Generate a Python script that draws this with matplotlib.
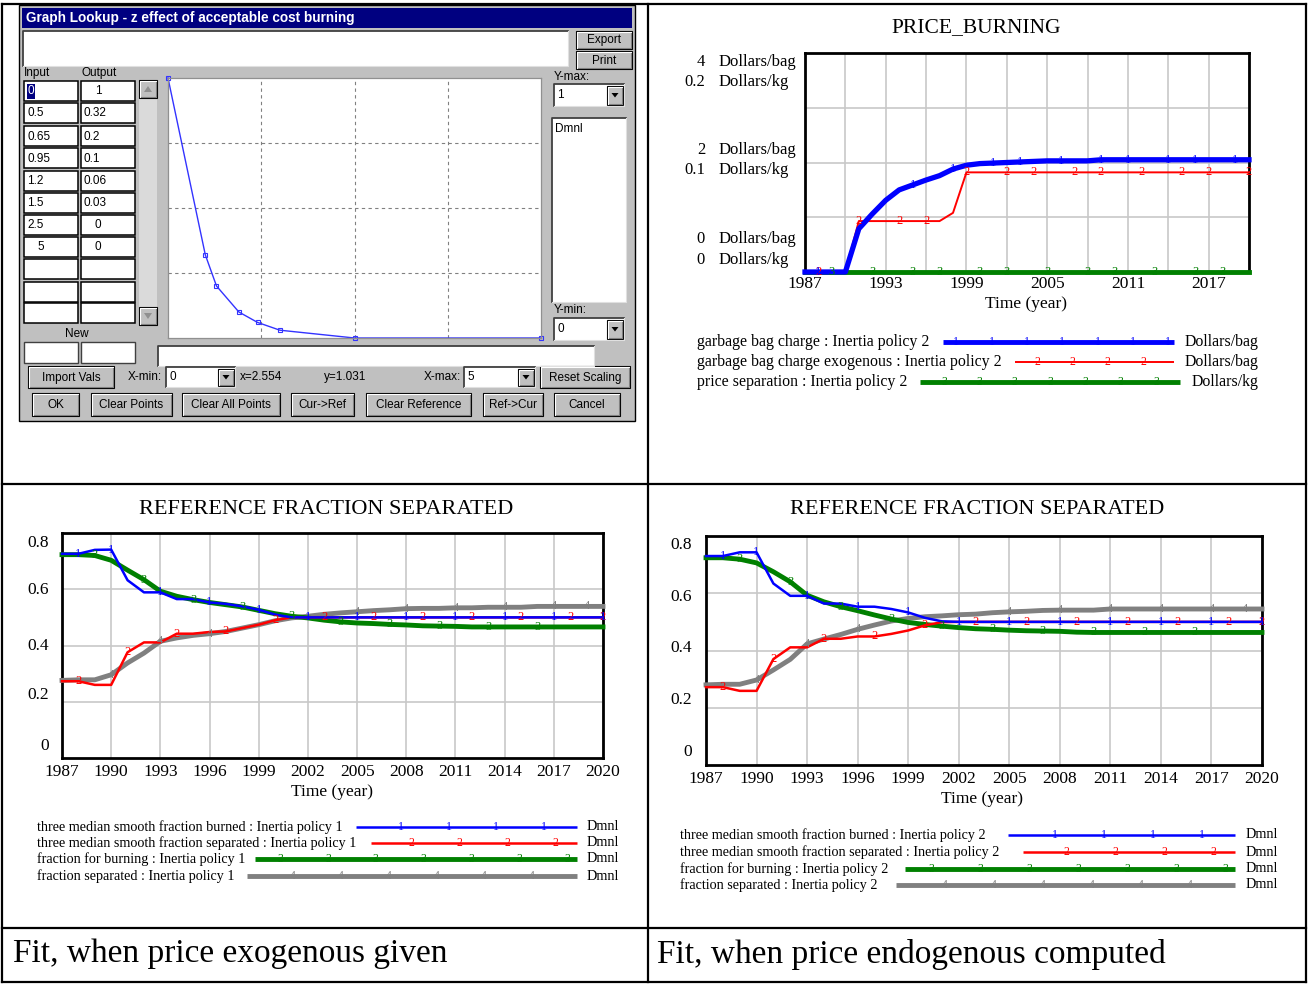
import matplotlib
matplotlib.use("Agg")
import matplotlib.pyplot as plt
from matplotlib.patches import Rectangle, Polygon

W, H = 1313, 984
SERIF = ["Liberation Serif", "DejaVu Serif"]
SANS = ["Liberation Sans", "DejaVu Sans"]
plt.rcParams["font.family"] = SERIF

# ---- lookup table shown in the dialog ----
lookup_input = [0, 0.5, 0.65, 0.95, 1.2, 1.5, 2.5, 5]
lookup_output = [1, 0.32, 0.2, 0.1, 0.06, 0.03, 0, 0]

years = list(range(1987, 2021))

# ---- PRICE_BURNING (Inertia policy 2) ----
bag_charge = [0, 0, 0, 0, 0.79, 1.06, 1.31, 1.50, 1.59, 1.68, 1.76, 1.88,
              1.95, 1.98, 1.99, 2.00, 2.01, 2.02, 2.03, 2.03, 2.03, 2.03,
              2.05, 2.05, 2.05, 2.05, 2.05, 2.05, 2.05, 2.05, 2.05, 2.05,
              2.05, 2.05]
bag_charge_exo = [0, 0, 0, 0, 0.93, 0.93, 0.93, 0.93, 0.93, 0.93, 0.93, 1.08,
                  1.82, 1.82, 1.82, 1.82, 1.82, 1.82, 1.82, 1.82, 1.82, 1.82,
                  1.82, 1.82, 1.82, 1.82, 1.82, 1.82, 1.82, 1.82, 1.82, 1.82,
                  1.82, 1.82]
price_separation = [0, 0, 0, 0, 0, 0, 0, 0, 0, 0, 0, 0, 0, 0, 0, 0, 0,
                    0, 0, 0, 0, 0, 0, 0, 0, 0, 0, 0, 0, 0, 0, 0, 0, 0]
bag_ticks = ["4", "2", "0"]
kg_ticks = ["0.2", "0.1", "0"]

# ---- REFERENCE FRACTION SEPARATED, Inertia policy 1 ----
p1_burned = [0.726, 0.726, 0.740, 0.741, 0.632, 0.589, 0.589, 0.565, 0.565,
             0.553, 0.548, 0.539, 0.527, 0.510, 0.500, 0.500, 0.500, 0.500,
             0.500, 0.500, 0.500, 0.500, 0.500, 0.500, 0.500, 0.500, 0.500,
             0.500, 0.500, 0.500, 0.500, 0.500, 0.500, 0.500]
p1_sep_smooth = [0.273, 0.273, 0.260, 0.260, 0.376, 0.411, 0.411, 0.442, 0.442,
                 0.448, 0.450, 0.462, 0.474, 0.490, 0.500, 0.500, 0.500, 0.500,
                 0.500, 0.500, 0.500, 0.500, 0.500, 0.500, 0.500, 0.500, 0.500,
                 0.500, 0.500, 0.500, 0.500, 0.500, 0.500, 0.500]
p1_burning = [0.723, 0.723, 0.720, 0.703, 0.668, 0.634, 0.593, 0.575, 0.563,
              0.553, 0.545, 0.537, 0.525, 0.513, 0.504, 0.498, 0.490, 0.484,
              0.480, 0.478, 0.475, 0.473, 0.470, 0.469, 0.468, 0.466, 0.466,
              0.466, 0.466, 0.466, 0.466, 0.466, 0.466, 0.466]
p1_separated = [0.276, 0.278, 0.278, 0.296, 0.338, 0.373, 0.415, 0.427, 0.436,
                0.442, 0.450, 0.462, 0.474, 0.488, 0.498, 0.504, 0.511, 0.516,
                0.520, 0.524, 0.527, 0.531, 0.532, 0.532, 0.534, 0.534, 0.536,
                0.536, 0.536, 0.539, 0.539, 0.539, 0.539, 0.539]

# ---- REFERENCE FRACTION SEPARATED, Inertia policy 2 ----
p2_burned = [0.730, 0.730, 0.743, 0.743, 0.634, 0.591, 0.591, 0.564, 0.564,
             0.553, 0.553, 0.545, 0.533, 0.514, 0.502, 0.500, 0.500, 0.500,
             0.500, 0.500, 0.500, 0.500, 0.500, 0.500, 0.500, 0.500, 0.500,
             0.500, 0.500, 0.500, 0.500, 0.500, 0.500, 0.500]
p2_sep_smooth = [0.272, 0.272, 0.259, 0.259, 0.370, 0.411, 0.411, 0.441, 0.441,
                 0.449, 0.449, 0.458, 0.470, 0.488, 0.499, 0.500, 0.500, 0.500,
                 0.500, 0.500, 0.500, 0.500, 0.500, 0.500, 0.500, 0.500, 0.500,
                 0.500, 0.500, 0.500, 0.500, 0.500, 0.500, 0.500]
p2_burning = [0.724, 0.724, 0.719, 0.706, 0.675, 0.640, 0.593, 0.570, 0.553,
              0.539, 0.524, 0.510, 0.498, 0.491, 0.485, 0.480, 0.476, 0.474,
              0.471, 0.469, 0.468, 0.467, 0.464, 0.463, 0.463, 0.463, 0.463,
              0.463, 0.463, 0.463, 0.463, 0.463, 0.463, 0.463]
p2_separated = [0.280, 0.282, 0.282, 0.297, 0.332, 0.369, 0.423, 0.440, 0.456,
                0.474, 0.489, 0.503, 0.512, 0.518, 0.521, 0.525, 0.527, 0.532,
                0.535, 0.537, 0.540, 0.541, 0.541, 0.541, 0.545, 0.545, 0.545,
                0.545, 0.545, 0.545, 0.545, 0.545, 0.545, 0.545]
frac_ticks = ["0.8", "0.6", "0.4", "0.2", "0"]

# years where Vensim prints its series numbers
marks_price = {1: [1988, 1995, 1998, 2001, 2003, 2006, 2009, 2011, 2014, 2016, 2019],
               2: [1988, 1991, 1994, 1996, 1999, 2002, 2004, 2007, 2009, 2012, 2015, 2017, 2020],
               3: [1989, 1992, 1995, 1997, 2000, 2002, 2005, 2008, 2010, 2013, 2016, 2018]}
marks_frac = {1: [1988, 1990, 1993, 1996, 1999, 2002, 2005, 2008, 2011, 2014, 2017, 2020],
              2: [1988, 1991, 1994, 1997, 2000, 2003, 2006, 2009, 2012, 2015, 2018, 2020],
              3: [1989, 1992, 1995, 1998, 2001, 2004, 2007, 2010, 2013, 2016],
              4: [1990, 1993, 1996, 2005, 2008, 2011, 2014, 2017, 2019]}

BLUE, RED, GREEN, GREY = "#0000FF", "#FF0000", "#008000", "#808080"
WIN = "#C0C0C0"
UI = 8.5

fig = plt.figure(figsize=(W / 100, H / 100), dpi=100)


def px_rect(x0, y0, x1, y1):
    return [x0 / W, 1 - y1 / H, (x1 - x0) / W, (y1 - y0) / H]


bg = fig.add_axes([0, 0, 1, 1])
bg.set_xlim(0, W)
bg.set_ylim(H, 0)
bg.axis("off")

# table frame
for xs, ys in [([2, 1306], [4, 4]), ([2, 1306], [484, 484]), ([2, 1306], [928, 928]),
               ([2, 1306], [982, 982]), ([2, 2], [4, 982]), ([1306, 1306], [4, 982]),
               ([648, 648], [4, 982])]:
    bg.plot(xs, ys, color="black", lw=1.6, solid_capstyle="projecting")

bg.text(13, 954, "Fit, when price exogenous given", fontsize=24, va="center")
bg.text(657, 954, "Fit, when price endogenous computed", fontsize=24, va="center")


# ---------------- dialog ----------------
def raised(x0, y0, x1, y1, label=None, fs=UI):
    bg.add_patch(Rectangle((x0, y0), x1 - x0, y1 - y0, facecolor=WIN,
                           edgecolor="black", lw=0.8))
    bg.plot([x0 + 1, x0 + 1, x1 - 1.5], [y1 - 1.5, y0 + 1, y0 + 1], color="white", lw=0.8)
    bg.plot([x0 + 1.5, x1 - 1.5, x1 - 1.5], [y1 - 1.5, y1 - 1.5, y0 + 1.5], color="#808080", lw=0.8)
    if label:
        bg.text((x0 + x1) / 2, (y0 + y1) / 2 + 0.5, label, ha="center", va="center",
                fontsize=fs, family=SANS)


def field(x0, y0, x1, y1, fill="white"):
    bg.add_patch(Rectangle((x0, y0), x1 - x0, y1 - y0, facecolor=fill,
                           edgecolor="none"))
    bg.plot([x0, x0, x1], [y1, y0, y0], color="#404040", lw=1.3)
    bg.plot([x0, x1, x1], [y1, y1, y0], color="#E0E0E0", lw=0.8)


def combo(x0, y0, x1, y1, text):
    field(x0, y0, x1, y1)
    bg.text(x0 + 3, (y0 + y1) / 2, text, va="center", fontsize=UI, family=SANS)
    raised(x1 - 17, y0 + 2, x1 - 1, y1 - 1)
    cx, cy = x1 - 9, (y0 + y1) / 2
    bg.add_patch(Polygon([[cx - 3.5, cy - 2], [cx + 3.5, cy - 2], [cx, cy + 2.5]],
                         closed=True, facecolor="black", edgecolor="none"))


bg.add_patch(Rectangle((19, 5), 616, 416, facecolor=WIN, edgecolor="black", lw=1))
bg.add_patch(Rectangle((22, 8), 610, 20, facecolor="#000080", edgecolor="none"))
bg.text(26, 18, "Graph Lookup - z effect of acceptable cost burning", color="white",
        fontsize=9.8, fontweight="bold", va="center", family=SANS)

field(23, 31, 568, 66)
raised(576, 31, 632, 49, "Export")
raised(576, 51, 632, 69, "Print")

bg.text(24, 73, "Input", fontsize=UI, family=SANS, va="center")
bg.text(81, 73, "Output", fontsize=UI, family=SANS, va="center")
row_tops = [81, 103, 126, 148, 171, 193, 215, 237, 259, 282, 303]
for i, top in enumerate(row_tops):
    for cx0 in (24, 81):
        bg.add_patch(Rectangle((cx0, top), 54, 20, facecolor="white",
                               edgecolor="black", lw=1.1))
    if i < len(lookup_input):
        for col, (cx0, val) in enumerate(((24, lookup_input[i]), (81, lookup_output[i]))):
            s = f"{val:g}"
            if i == 0 and col == 0:
                # the selected cell: highlighted text
                bg.add_patch(Rectangle((27, top + 3), 8, 15, facecolor="#000080",
                                       edgecolor="none"))
                bg.text(31, top + 10.5, s, color="white", ha="center", va="center",
                        fontsize=UI, family=SANS)
            elif len(s) == 1:
                bg.text(cx0 + 17, top + 10.5, s, va="center", ha="center",
                        fontsize=UI, family=SANS)
            else:
                bg.text(cx0 + 3, top + 10.5, s, va="center", fontsize=UI, family=SANS)

# scrollbar
bg.add_patch(Rectangle((139, 80), 18, 245, facecolor="#DADADA", edgecolor="none"))
raised(139, 80, 157, 98)
raised(139, 307, 157, 325)
bg.add_patch(Polygon([[144, 92], [152, 92], [148, 86]], closed=True, facecolor="#909090", edgecolor="none"))
bg.add_patch(Polygon([[144, 313], [152, 313], [148, 319]], closed=True, facecolor="#909090", edgecolor="none"))

bg.text(77, 334, "New", fontsize=UI, family=SANS, va="center", ha="center")
bg.add_patch(Rectangle((24, 342), 54, 21, facecolor="white", edgecolor="#404040", lw=1))
bg.add_patch(Rectangle((81, 342), 54, 21, facecolor="white", edgecolor="#404040", lw=1))

bg.text(554, 77, "Y-max:", fontsize=UI, family=SANS, va="center")
combo(554, 84, 624, 106, "1")
field(552, 118, 626, 302)
bg.text(555, 129, "Dmnl", fontsize=UI, family=SANS, va="center")
bg.text(554, 310, "Y-min:", fontsize=UI, family=SANS, va="center")
combo(554, 318, 624, 340, "0")

field(158, 346, 594, 366)
raised(28, 366, 114, 388, "Import Vals")
bg.text(128, 377, "X-min:", fontsize=UI, family=SANS, va="center")
combo(166, 367, 235, 387, "0")
bg.text(240, 377, "x=2.554", fontsize=UI, family=SANS, va="center")
bg.text(324, 377, "y=1.031", fontsize=UI, family=SANS, va="center")
bg.text(424, 377, "X-max:", fontsize=UI, family=SANS, va="center")
combo(464, 367, 535, 387, "5")
raised(540, 366, 630, 388, "Reset Scaling")
for x0, x1, lab in [(32, 79, "OK"), (91, 172, "Clear Points"), (182, 280, "Clear All Points"),
                    (291, 354, "Cur->Ref"), (366, 471, "Clear Reference"),
                    (483, 543, "Ref->Cur"), (554, 620, "Cancel")]:
    raised(x0, 393, x1, 416, lab)

lk = fig.add_axes(px_rect(168, 78, 541, 338))
lk.set_facecolor("white")
lk.set_xlim(0, 5)
lk.set_ylim(0, 1)
lk.set_xticks([])
lk.set_yticks([])
for s in lk.spines.values():
    s.set_color("#909090")
    s.set_linewidth(0.9)
for v in (1.25, 2.5, 3.75):
    lk.axvline(v, color="#808080", lw=0.8, dashes=(3, 3))
for v in (0.25, 0.5, 0.75):
    lk.axhline(v, color="#808080", lw=0.8, dashes=(3, 3))
lk.plot(lookup_input, lookup_output, color="#3333FF", lw=1, marker="s", ms=3,
        mfc="none", mec="#3333FF", mew=0.8, clip_on=False)


# ---------------- Vensim charts ----------------
def vensim_axes(rect, ymax, label_step, pad):
    ax = fig.add_axes(px_rect(*rect))
    ax.set_xlim(1987, 2020)
    ax.set_ylim(0, ymax)
    xt = list(range(1987, 2021, 3))
    ax.set_xticks(xt)
    ax.set_xticklabels([str(y) if (y - 1987) % label_step == 0 else "" for y in xt],
                       fontsize=12.5)
    ax.set_yticks([ymax / 4 * k for k in range(1, 4)])
    ax.set_yticklabels([])
    ax.tick_params(length=0, pad=pad)
    ax.grid(True, color="#C8C8C8", lw=1.2)
    ax.set_axisbelow(True)
    for s in ax.spines.values():
        s.set_linewidth(2)
        s.set_color("black")
    return ax


def series(ax, values, color, lw, num, mark_years, scale=1.0):
    vals = [v * scale for v in values]
    ax.plot(years, vals, color=color, lw=lw, solid_joinstyle="round", clip_on=False, zorder=3)
    for y in mark_years:
        ax.text(y, vals[years.index(y)], str(num), color=color, fontsize=9,
                ha="center", va="center", zorder=4, clip_on=False)


def legend_row(y, tx, label, x0, x1, color, lw, num, n, off, step, unit, ux, fs):
    bg.text(tx, y, label, fontsize=fs, va="center")
    bg.plot([x0, x1], [y, y], color=color, lw=lw, solid_capstyle="butt")
    for k in range(n):
        bg.text(x1 - off - step * k, y, str(num), color=color, fontsize=8.5,
                ha="center", va="center")
    bg.text(ux, y, unit, fontsize=fs, va="center")


# PRICE_BURNING
bg.text(976, 28, "PRICE_BURNING", fontsize=15.5, ha="center", va="center")
ax2 = vensim_axes((805, 53, 1249, 272), 4, 6, 3)
kg_to_bag = 4 / 0.2
series(ax2, price_separation, GREEN, 3.5, 3, marks_price[3], kg_to_bag)
series(ax2, bag_charge_exo, RED, 1.4, 2, marks_price[2])
series(ax2, bag_charge, BLUE, 3.8, 1, marks_price[1])
for (yb, yk), tb, tk in zip([(62, 82), (150, 170), (239, 260)], bag_ticks, kg_ticks):
    bg.text(705, yb, tb, fontsize=12, ha="right", va="center")
    bg.text(719, yb, "Dollars/bag", fontsize=12, va="center")
    bg.text(705, yk, tk, fontsize=12, ha="right", va="center")
    bg.text(719, yk, "Dollars/kg", fontsize=12, va="center")
bg.text(1026, 304, "Time (year)", fontsize=12.5, ha="center", va="center")
legend_row(342, 697, "garbage bag charge : Inertia policy 2", 943, 1174, BLUE, 3.5, 1, 7, 6, 35.3, "Dollars/bag", 1185, 11.4)
legend_row(362, 697, "garbage bag charge exogenous : Inertia policy 2", 1015, 1174, RED, 1.4, 2, 4, 31, 35.3, "Dollars/bag", 1185, 11.4)
legend_row(382, 697, "price separation : Inertia policy 2", 920, 1180, GREEN, 3.5, 3, 7, 24, 35.3, "Dollars/kg", 1192, 11.4)


def fraction_panel(rect, title_xy, tick_ys, tick_x, time_xy, leg, burned, sep_smooth,
                   burning, separated, policy):
    bg.text(title_xy[0], title_xy[1], "REFERENCE FRACTION SEPARATED", fontsize=16,
            ha="center", va="center")
    ax = vensim_axes(rect, 0.8, 3, 4)
    series(ax, separated, GREY, 3.5, 4, marks_frac[4])
    series(ax, burning, GREEN, 3.5, 3, marks_frac[3])
    series(ax, sep_smooth, RED, 1.8, 2, marks_frac[2])
    series(ax, burned, BLUE, 1.8, 1, marks_frac[1])
    for ty, lab in zip(tick_ys, frac_ticks):
        bg.text(tick_x, ty, lab, fontsize=12.5, ha="right", va="center")
    bg.text(time_xy[0], time_xy[1], "Time (year)", fontsize=12.5, ha="center", va="center")
    tx, ys, x1, ux, step, starts = leg
    rows = [(f"three median smooth fraction burned : Inertia policy {policy}", BLUE, 1.8, 1, 4, 33),
            (f"three median smooth fraction separated : Inertia policy {policy}", RED, 1.8, 2, 4, 22),
            (f"fraction for burning : Inertia policy {policy}", GREEN, 3.5, 3, 7, 10),
            (f"fraction separated : Inertia policy {policy}", GREY, 3.5, 4, 6, 45)]
    for (lab, col, lw, num, n, off), y, x0 in zip(rows, ys, starts):
        legend_row(y, tx, lab, x0, x1, col, lw, num, n, off, step, "Dmnl", ux, 10.2)


fraction_panel((62, 533, 603, 758), (326, 509), [543, 590, 646, 695, 746], 49, (332, 792),
               (37, [827, 843, 859, 876], 577, 587, 47.8, [356, 371, 255, 247]),
               p1_burned, p1_sep_smooth, p1_burning, p1_separated, 1)
fraction_panel((706, 536, 1262, 765), (977, 510), [545, 597, 648, 700, 752], 692, (982, 799),
               (680, [835, 852, 869, 885], 1235, 1246, 49, [1008, 1023, 905, 896]),
               p2_burned, p2_sep_smooth, p2_burning, p2_separated, 2)

fig.savefig("out.png", dpi=100)
